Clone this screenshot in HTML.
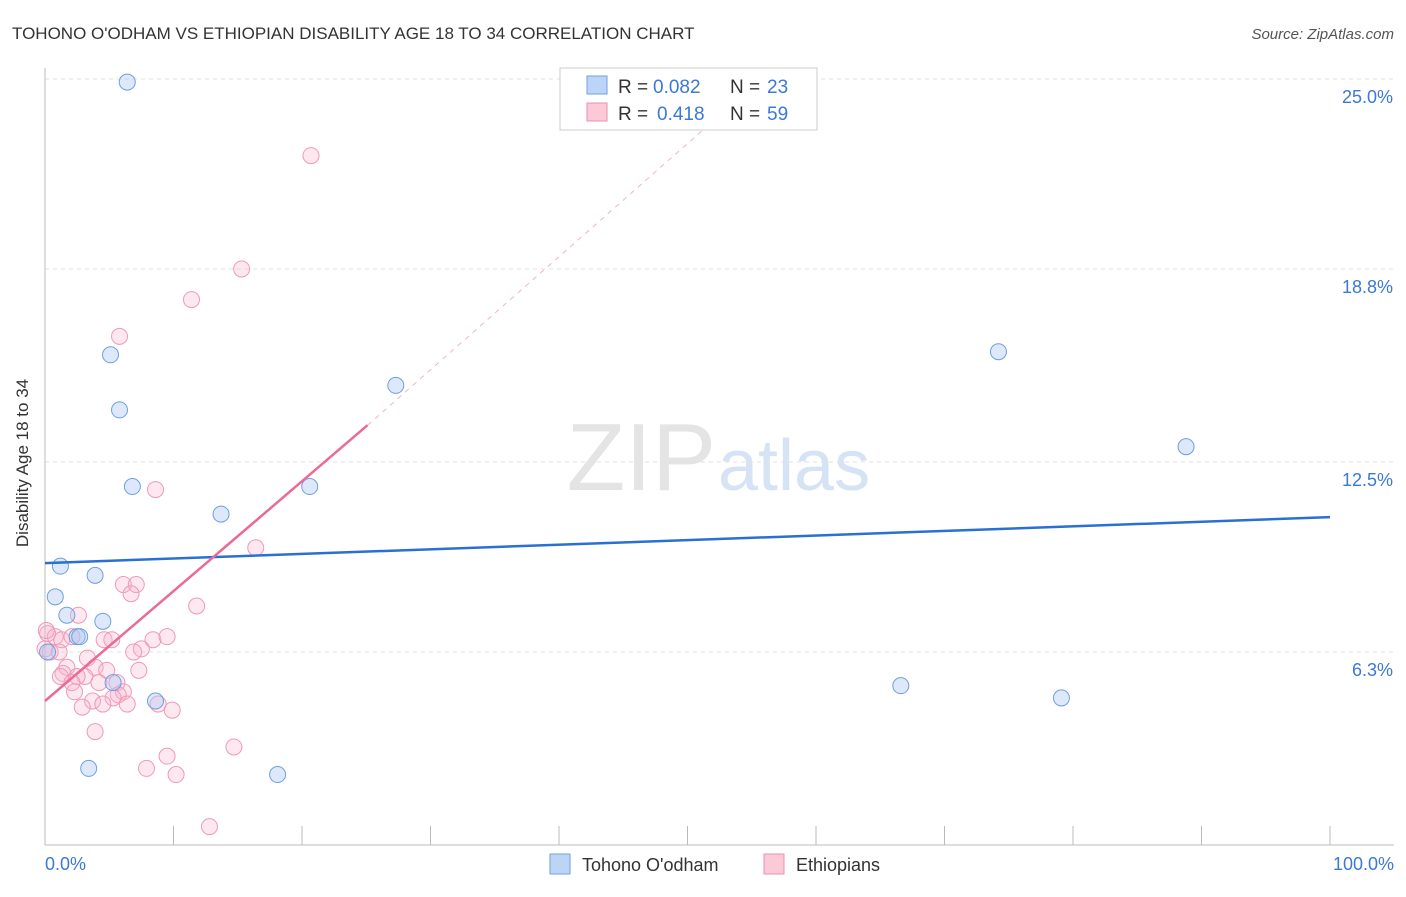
<!DOCTYPE html>
<html><head><meta charset="utf-8"><style>
body{margin:0;background:#fff;font-family:"Liberation Sans",sans-serif;}
svg text{font-family:"Liberation Sans",sans-serif;}
</style></head><body>
<svg width="1406" height="892" viewBox="0 0 1406 892">
<text x="12" y="39" font-size="17" fill="#333">TOHONO O'ODHAM VS ETHIOPIAN DISABILITY AGE 18 TO 34 CORRELATION CHART</text>
<text x="1394" y="39" font-size="15" fill="#555" text-anchor="end" font-style="italic">Source: ZipAtlas.com</text>
<text x="716" y="490" font-size="96" fill="#e4e4e4" text-anchor="end" font-family="Liberation Serif">ZIP</text>
<text x="718" y="490" font-size="72" fill="#d6e3f5">atlas</text>
<g id="grid"></g>
<line x1="45" y1="68" x2="45" y2="845" stroke="#bbb"/>
<line x1="45" y1="845" x2="1394" y2="845" stroke="#bbb"/>
<g id="ticks"></g>
<text x="20" y="455" font-size="17" fill="#333" text-anchor="middle" transform="rotate(-90 28 455)">Disability Age 18 to 34</text>
<text x="45" y="870" font-size="18" fill="#3b78d8">0.0%</text>
<text x="1394" y="870" font-size="18" fill="#3b78d8" text-anchor="end">100.0%</text>
<g id="pts"></g>
<g id="lines"></g>
<g>
<rect x="560" y="68" width="257" height="62" fill="#fff" stroke="#ccc"/>
<rect x="587" y="76" width="20" height="18" fill="#bcd4f5" stroke="#6f9fe0"/>
<rect x="587" y="103" width="20" height="18" fill="#fbc9d8" stroke="#ee8fae"/>
<text x="618" y="93" font-size="19" fill="#333">R =</text>
<text x="653" y="93" font-size="19" fill="#3b78d8">0.082</text>
<text x="730" y="93" font-size="19" fill="#333">N =</text>
<text x="767" y="93" font-size="19" fill="#3b78d8">23</text>
<text x="618" y="120" font-size="19" fill="#333">R =</text>
<text x="657" y="120" font-size="19" fill="#3b78d8">0.418</text>
<text x="730" y="120" font-size="19" fill="#333">N =</text>
<text x="767" y="120" font-size="19" fill="#3b78d8">59</text>
</g>
<g>
<rect x="550" y="854" width="20" height="20" fill="#bcd4f5" stroke="#6f9fe0"/>
<text x="582" y="871" font-size="18" fill="#333">Tohono O'odham</text>
<rect x="764" y="854" width="20" height="20" fill="#fbc9d8" stroke="#ee8fae"/>
<text x="796" y="871" font-size="18" fill="#333">Ethiopians</text>
</g>
</svg>
<script>
const yTicks=[25.0,18.8,12.5,6.3];
const yTickLabels=["25.0%","18.8%","12.5%","6.3%"];
const xTicks=[0,10,20,30,40,50,60,70,80,90,100];
const blueX=[6.4,5.1,5.8,6.8,13.7,20.6,27.3,1.2,3.9,0.8,1.7,4.5,2.5,2.7,0.2,5.3,8.6,3.4,18.1,74.2,88.8,66.6,79.1];
const blueY=[24.9,16.0,14.2,11.7,10.8,11.7,15.0,9.1,8.8,8.1,7.5,7.3,6.8,6.8,6.3,5.3,4.7,2.5,2.3,16.1,13.0,5.2,4.8];
const pinkX=[20.7,15.3,11.4,5.8,8.6,16.4,6.1,7.1,6.7,11.8,2.6,0.2,0.8,1.3,2.1,4.6,5.2,8.4,9.5,7.5,6.9,0.0,0.4,1.1,3.3,1.7,1.4,3.9,4.8,7.3,3.1,2.5,1.2,2.1,4.2,5.6,6.1,2.3,5.7,3.7,5.3,2.9,4.5,6.4,8.8,9.9,3.9,9.5,14.7,7.9,10.2,12.8,0.1];
const pinkY=[22.5,18.8,17.8,16.6,11.6,9.7,8.5,8.5,8.2,7.8,7.5,6.9,6.8,6.7,6.8,6.7,6.7,6.7,6.8,6.4,6.3,6.4,6.3,6.3,6.1,5.8,5.6,5.8,5.7,5.7,5.5,5.5,5.5,5.3,5.3,5.3,5.0,5.0,4.9,4.7,4.8,4.5,4.6,4.6,4.6,4.4,3.7,2.9,3.2,2.5,2.3,0.6,7.0];
const blueLine=[9.2,10.7];
const pinkLine=[4.7,13.7,24.0];
const NS="http://www.w3.org/2000/svg";
const X=v=>45+v*12.85, Y=v=>79+(25-v)*30.64;
function mk(t,a,p){const e=document.createElementNS(NS,t);for(const k in a)e.setAttribute(k,a[k]);document.getElementById(p).appendChild(e);return e;}
yTicks.forEach((v,i)=>{
 const g=mk('line',{x1:45,x2:1394,y1:Y(v),y2:Y(v),stroke:'#e2e2e2','stroke-dasharray':'4,4'},'grid');
 
 
 const t=mk('text',{x:1393,y:Y(v)+24,'font-size':18,fill:'#3b78d8','text-anchor':'end'},'ticks');
 t.textContent=yTickLabels[i];
 
 
});
xTicks.forEach(v=>{
 const l=mk('line',{x1:X(v),x2:X(v),y1:826,y2:845,stroke:'#bbb'},'ticks');
 
 
});
pinkX.forEach((x,i)=>{
 const c=mk('circle',{cx:X(x),cy:Y(pinkY[i]),r:8,fill:'rgba(248,180,204,0.3)',stroke:'#ee9ab5','stroke-width':1},'pts');
 
 
});
blueX.forEach((x,i)=>{
 const c=mk('circle',{cx:X(x),cy:Y(blueY[i]),r:8,fill:'rgba(170,200,242,0.4)',stroke:'#6f9fe0','stroke-width':1},'pts');
 
 
});
const bl=mk('line',{x1:X(0),y1:Y(blueLine[0]),x2:X(100),y2:Y(blueLine[1]),stroke:'#2a6fd4','stroke-width':2.5},'lines');


const pl=mk('line',{x1:X(0),y1:Y(pinkLine[0]),x2:X(25.1),y2:Y(pinkLine[1]),stroke:'#ea6b93','stroke-width':2.5},'lines');


const pd=mk('line',{x1:X(25.1),y1:Y(pinkLine[1]),x2:X(53),y2:Y(pinkLine[2]),stroke:'#f0b5c8','stroke-width':1,'stroke-dasharray':'5,5'},'lines');


</script>
</body></html>
